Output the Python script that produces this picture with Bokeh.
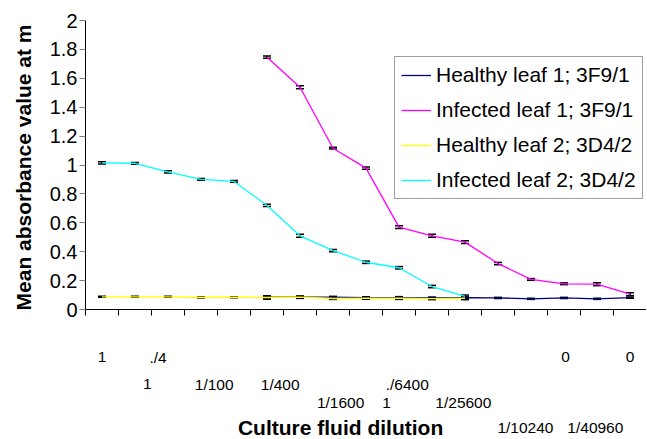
from math import pi
from bokeh.plotting import figure
from bokeh.models import (Range1d, LinearAxis, FixedTicker, ColumnDataSource,
                          Whisker, TeeHead, Legend, LegendItem, Label)
from bokeh.core.properties import value
from bokeh.embed import file_html
from bokeh.resources import INLINE

# ---------------- data ----------------
categories = list(range(1, 18))  # 17 dilution steps (category slots)

healthy_leaf1 = [None, None, None, None, None,
                 0.085, 0.085, 0.085, 0.082, 0.082, 0.080, 0.082, 0.080, 0.074, 0.080, 0.074, 0.082]
healthy_leaf1_err = [None, None, None, None, None,
                     0.006, 0.007, 0.006, 0.006, 0.007, 0.006, 0.006, 0.004, 0.004, 0.004, 0.004, 0.004]
infected_leaf1 = [None, None, None, None, None,
                  1.746, 1.538, 1.116, 0.978, 0.570, 0.510, 0.466, 0.318, 0.208, 0.178, 0.175, 0.106]
infected_leaf1_err = [None, None, None, None, None,
                      0.008, 0.010, 0.006, 0.008, 0.010, 0.010, 0.010, 0.008, 0.006, 0.006, 0.010, 0.010]
healthy_leaf2 = [0.088, 0.088, 0.088, 0.083, 0.085, 0.083, 0.085, 0.076, 0.078, 0.078, 0.075, 0.078,
                 None, None, None, None, None]
healthy_leaf2_err = [0.004, 0.004, 0.004, 0.004, 0.004, 0.012, 0.008, 0.006, 0.007, 0.008, 0.007, 0.010,
                     None, None, None, None, None]
infected_leaf2 = [1.015, 1.012, 0.953, 0.900, 0.886, 0.720, 0.510, 0.408, 0.327, 0.289, 0.159, 0.090,
                  None, None, None, None, None]
infected_leaf2_err = [0.008, 0.006, 0.008, 0.006, 0.006, 0.008, 0.010, 0.008, 0.008, 0.008, 0.008, 0.010,
                      None, None, None, None, None]

series_names = ["Healthy leaf 1; 3F9/1", "Infected leaf 1; 3F9/1",
                "Healthy leaf 2; 3D4/2", "Infected leaf 2; 3D4/2"]
series_colors = ["#000080", "#FF00FF", "#FFFF00", "#00FFFF"]

y_ticks = [0, 0.2, 0.4, 0.6, 0.8, 1, 1.2, 1.4, 1.6, 1.8, 2]
y_tick_labels = ["0", "0.2", "0.4", "0.6", "0.8", "1", "1.2", "1.4", "1.6", "1.8", "2"]

# category-axis labels as they appear (four staggered rows)
row1_labels = ["1", "./4", "0", "0"]
row2_labels = ["1", "1/100", "1/400", "./6400"]
row3_labels = ["1/1600", "1", "1/25600"]
row4_labels = ["1/10240", "1/40960"]

x_title = "Culture fluid dilution"
y_title = "Mean absorbance value at m"

# ---------------- layout (positions of texts, in axis units) ----------------
row1_pos = [0.5, 2.2, 14.55, 16.5]
row2_pos = [1.87, 3.9, 5.9, 9.75]
row3_pos = [7.73, 9.12, 11.45]
row4_pos = [13.33, 15.45]
row_levels = [-0.332, -0.519, -0.644, -0.817]

FONT = "Liberation Sans"
W, H = 646, 438
PX_X, X0 = 33.0, 85.0      # px per category, px of category origin
PX_Y, Y0 = 144.5, 309.0    # px per unit, px of zero

p = figure(width=W, height=H,
           x_range=Range1d(-X0 / PX_X, (W - X0) / PX_X),
           y_range=Range1d(-(H - Y0) / PX_Y, Y0 / PX_Y),
           output_backend="svg", toolbar_location=None,
           x_axis_location=None, y_axis_location=None, min_border=0)
p.outline_line_color = None
p.xgrid.grid_line_color = None
p.ygrid.grid_line_color = None
p.background_fill_color = "white"
p.border_fill_color = "white"

# y axis, fixed at category origin
ya = LinearAxis(fixed_location=0, bounds=(0, 2),
                ticker=FixedTicker(ticks=y_ticks, minor_ticks=[]),
                major_label_overrides=dict(zip(y_ticks, y_tick_labels)),
                major_tick_out=6, major_tick_in=0, major_tick_line_color="#808080",
                axis_line_color="black", major_label_standoff=2,
                major_label_text_font=FONT, major_label_text_font_size="20px",
                major_label_text_color="black")
p.add_layout(ya, "left")

# x axis, fixed at zero, ticks at category boundaries
boundaries = list(range(0, 17))
xa = LinearAxis(fixed_location=0, bounds=(0, 17),
                ticker=FixedTicker(ticks=boundaries, minor_ticks=[]),
                major_tick_out=6, major_tick_in=0, major_tick_line_color="black",
                axis_line_color="black", major_label_text_color=None)
p.add_layout(xa, "below")

# staggered category labels
for pos, labs, lvl in zip([row1_pos, row2_pos, row3_pos, row4_pos],
                          [row1_labels, row2_labels, row3_labels, row4_labels], row_levels):
    p.text(x=pos, y=[lvl] * len(pos), text=labs, text_align="center", text_baseline="middle",
           text_font=value(FONT), text_font_size="15.5px", text_color="black")

p.add_layout(Label(x=7.73, y=row_levels[3], text=x_title, text_align="center",
                   text_baseline="middle", text_font=FONT, text_font_size="21px",
                   text_font_style="bold", text_color="black"))
p.add_layout(Label(x=-1.88, y=0.983, text=y_title, angle=pi / 2, text_align="center",
                   text_baseline="middle", text_font=FONT, text_font_size="21px",
                   text_font_style="bold", text_color="black"))

# series
all_vals = [healthy_leaf1, infected_leaf1, healthy_leaf2, infected_leaf2]
all_errs = [healthy_leaf1_err, infected_leaf1_err, healthy_leaf2_err, infected_leaf2_err]
items = []
for name, color, vals, errs in zip(series_names, series_colors, all_vals, all_errs):
    xs, ys, lo, hi = [], [], [], []
    for c, v, e in zip(categories, vals, errs):
        if v is None:
            continue
        xs.append(c - 0.5)
        ys.append(v)
        lo.append(v - e)
        hi.append(v + e)
    src = ColumnDataSource(dict(x=xs, y=ys, lower=lo, upper=hi))
    r = p.line("x", "y", source=src, line_color=color, line_width=1.3)
    items.append(LegendItem(label=name, renderers=[r]))
    p.add_layout(Whisker(source=src, base="x", lower="lower", upper="upper",
                         line_color="black", line_width=1.5,
                         upper_head=TeeHead(size=8, line_color="black", line_width=1.5),
                         lower_head=TeeHead(size=8, line_color="black", line_width=1.5)))

legend = Legend(items=items, location=(394, H - 199),
                label_text_font=FONT, label_text_font_size="21px", label_text_color="black",
                glyph_width=30, glyph_height=20, label_standoff=5, padding=6, spacing=11,
                margin=0, border_line_color="#404040", border_line_width=1,
                background_fill_color="white", background_fill_alpha=1)
p.add_layout(legend)

open("out.html", "w").write(file_html(p, INLINE))
